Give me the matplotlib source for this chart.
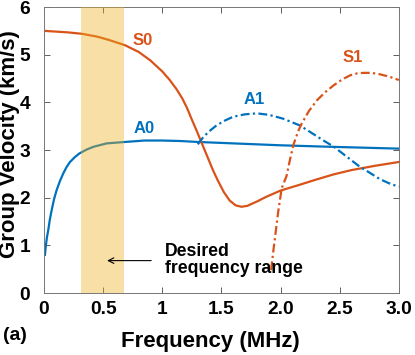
import numpy as np
import matplotlib.pyplot as plt

plt.rcParams['font.family'] = ['Liberation Sans', 'DejaVu Sans']

blue = (0, 0.447, 0.741)
orange = (0.85, 0.325, 0.098)

# dispersion curves (frequency in MHz, group velocity in km/s)
a0_f = [0.008, 0.015, 0.025, 0.036, 0.05, 0.065, 0.085, 0.107, 0.135, 0.163, 0.19, 0.22,
        0.26, 0.30, 0.36, 0.42, 0.53, 0.685, 0.85, 1.0, 1.15, 1.3, 1.6, 2.0, 2.4, 2.7, 3.0]
a0_v = [0.8, 0.98, 1.17, 1.32, 1.55, 1.74, 1.97, 2.16, 2.35, 2.51, 2.64, 2.75,
        2.85, 2.93, 3.01, 3.07, 3.14, 3.17, 3.2, 3.2, 3.19, 3.17, 3.14, 3.1, 3.07, 3.05, 3.03]

s0_f = [0.01, 0.2, 0.32, 0.45, 0.55, 0.685, 0.8, 0.9, 1.0, 1.06, 1.12, 1.17, 1.21, 1.25,
        1.29, 1.33, 1.37, 1.40, 1.43, 1.47, 1.52, 1.57, 1.62, 1.67, 1.72, 1.8, 1.88, 2.0,
        2.16, 2.3, 2.45, 2.6, 2.8, 3.0]
s0_v = [5.5, 5.47, 5.44, 5.38, 5.31, 5.2, 5.06, 4.88, 4.65, 4.48, 4.28, 4.08, 3.88, 3.64,
        3.41, 3.17, 2.93, 2.75, 2.57, 2.36, 2.12, 1.94, 1.84, 1.81, 1.83, 1.92, 2.02, 2.15,
        2.27, 2.38, 2.49, 2.58, 2.67, 2.75]

a1_f = [1.30, 1.35, 1.40, 1.46, 1.53, 1.6, 1.7, 1.8, 1.9, 2.02, 2.1, 2.16, 2.25, 2.35,
        2.45, 2.55, 2.67, 2.75, 2.84, 2.92, 3.0]
a1_v = [3.12, 3.28, 3.4, 3.52, 3.62, 3.7, 3.75, 3.77, 3.74, 3.66, 3.58, 3.52, 3.38, 3.22,
        3.07, 2.88, 2.65, 2.53, 2.39, 2.3, 2.23]

s1_f = [1.92, 1.94, 1.96, 1.98, 2.01, 2.05, 2.08, 2.11, 2.15, 2.18, 2.24, 2.31, 2.38, 2.45,
        2.52, 2.59, 2.65, 2.7, 2.77, 2.84, 2.92, 3.0]
s1_v = [0.48, 0.9, 1.3, 1.7, 2.2, 2.45, 2.8, 3.12, 3.4, 3.56, 3.82, 4.05, 4.22, 4.36,
        4.48, 4.57, 4.61, 4.62, 4.62, 4.59, 4.54, 4.47]

band = (0.31, 0.68)
xticks = [0, 0.5, 1, 1.5, 2.0, 2.5, 3.0]
xticklabels = ['0', '0.5', '1', '1.5', '2.0', '2.5', '3.0']
yticks = [0, 1, 2, 3, 4, 5, 6]

fig = plt.figure(figsize=(4.15, 3.55), dpi=100)
ax = fig.add_axes([0.106, 0.1746, 0.855, 0.8054])

ax.plot(a0_f, a0_v, color=blue, lw=1.6)
ax.plot(s0_f, s0_v, color=orange, lw=1.6)
ax.plot(a1_f, a1_v, color=blue, lw=1.6, ls=(0, (4, 1.5, 1, 1.5)))
ax.plot(s1_f, s1_v, color=orange, lw=1.6, ls=(0, (4, 1.5, 1, 1.5)))

ax.axvspan(band[0], band[1], color=(0.929, 0.694, 0.125), alpha=0.4, lw=0, zorder=3)

lab = dict(fontsize=12, fontweight='bold', ha='center', va='center')
ax.text(0.83, 5.3, 'S0', color=orange, **lab)
ax.text(0.85, 3.46, 'A0', color=blue, **lab)
ax.text(1.78, 4.07, 'A1', color=blue, **lab)
ax.text(2.61, 4.95, 'S1', color=orange, **lab)

ax.annotate('', xy=(0.51, 0.68), xytext=(0.93, 0.68),
            arrowprops=dict(arrowstyle='->', color='black', lw=0.8))
ax.text(1.02, 0.69, 'Desired\nfrequency range', fontsize=12.7, fontweight='bold',
        ha='left', va='center', linespacing=1.0)

ax.set_xlim(0, 3)
ax.set_ylim(0, 6)
ax.set_xticks(xticks)
ax.set_xticklabels(xticklabels)
ax.set_yticks(yticks)
ax.tick_params(direction='in', length=4, width=0.6, top=True, right=True,
               labelsize=13.8, color='#444444')
ax.tick_params(axis='x', pad=6)
ax.tick_params(axis='y', pad=10)
for lbl in ax.get_xticklabels() + ax.get_yticklabels():
    lbl.set_fontweight('bold')
for s in ax.spines.values():
    s.set_color('#777777')
    s.set_linewidth(0.7)

ax.set_xlabel('Frequency (MHz)', fontsize=16, fontweight='bold', va='center')
ax.xaxis.set_label_coords(0.47, -0.171)
ax.set_ylabel('Group Velocity (km/s)', fontsize=16, fontweight='bold', va='center')
ax.yaxis.set_label_coords(-0.096, 0.52)
fig.text(0.036, 0.056, '(a)', fontsize=14, fontweight='bold', ha='center', va='center')

fig.savefig('out.png', dpi=100)
